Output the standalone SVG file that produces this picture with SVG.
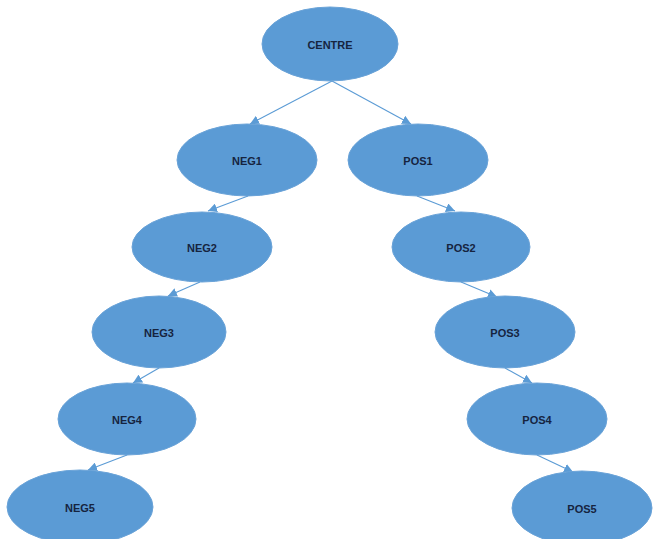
<svg xmlns="http://www.w3.org/2000/svg" width="659" height="539" viewBox="0 0 659 539">
<style>
.node ellipse{fill:#5b9bd5;stroke:#6aa3d8;stroke-width:1}
.node text{font-family:"Liberation Sans",Arial,sans-serif;font-weight:bold;font-size:11px;fill:#16243f;text-anchor:middle;dominant-baseline:central}
.conn line{stroke:#5b9bd5;stroke-width:1.1;marker-end:url(#ah)}
</style>
<defs>
<marker id="ah" viewBox="0 0 10 10" refX="10" refY="5" markerWidth="9" markerHeight="9" markerUnits="userSpaceOnUse" orient="auto">
<path d="M0,0 L10,5 L0,10 z" fill="#5b9bd5"/>
</marker>
</defs>
<rect width="659" height="539" fill="#ffffff"/>
<g class="conn">
<line x1="332" y1="81" x2="250" y2="124"/>
<line x1="332" y1="81" x2="411" y2="124"/>
<line x1="248" y1="196" x2="208" y2="211"/>
<line x1="417" y1="196" x2="455" y2="211"/>
<line x1="200" y1="282" x2="168" y2="296"/>
<line x1="461" y1="282" x2="497" y2="297"/>
<line x1="159" y1="368" x2="133" y2="383"/>
<line x1="505" y1="368" x2="532" y2="383"/>
<line x1="127" y1="455" x2="88" y2="470"/>
<line x1="537" y1="455" x2="573" y2="472"/>
</g>
<g id="centre" class="node"><ellipse cx="330" cy="44" rx="68" ry="37"/><text x="330" y="45">CENTRE</text></g>
<g id="neg1" class="node"><ellipse cx="247" cy="160" rx="70" ry="36"/><text x="247" y="161">NEG1</text></g>
<g id="pos1" class="node"><ellipse cx="418" cy="160" rx="70" ry="36"/><text x="418" y="161">POS1</text></g>
<g id="neg2" class="node"><ellipse cx="202" cy="247" rx="70" ry="35"/><text x="202" y="248">NEG2</text></g>
<g id="pos2" class="node"><ellipse cx="461" cy="247" rx="69" ry="35"/><text x="461" y="248">POS2</text></g>
<g id="neg3" class="node"><ellipse cx="159" cy="332" rx="67" ry="36"/><text x="159" y="333">NEG3</text></g>
<g id="pos3" class="node"><ellipse cx="505" cy="332" rx="70" ry="36"/><text x="505" y="333">POS3</text></g>
<g id="neg4" class="node"><ellipse cx="127" cy="419" rx="69" ry="36"/><text x="127" y="420">NEG4</text></g>
<g id="pos4" class="node"><ellipse cx="537" cy="419" rx="70" ry="36"/><text x="537" y="420">POS4</text></g>
<g id="neg5" class="node"><ellipse cx="80" cy="507" rx="73" ry="37"/><text x="80" y="508">NEG5</text></g>
<g id="pos5" class="node"><ellipse cx="582" cy="508" rx="70" ry="37"/><text x="582" y="509">POS5</text></g>
</svg>
